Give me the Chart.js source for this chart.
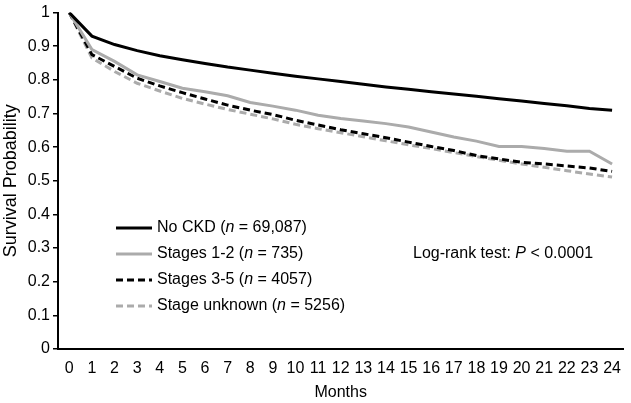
<!doctype html>
<html>
	<head>
		<meta charset="utf-8" />
		<title>Survival</title>
		<style>
			html	{ height: 100% }
			body	{ height: 100%; margin: 0; padding: 0; background: #fff }
			canvas	{ display:block; }
		</style>
		<script src="https://cdn.jsdelivr.net/npm/chart.js@4/dist/chart.umd.min.js"></script>
	</head>
	<body>
		<canvas id="canvas" width="631" height="403"></canvas>
		<script>
			var months = ['0','1','2','3','4','5','6','7','8','9','10','11','12','13','14','15','16','17','18','19','20','21','22','23','24'];

			var noCkd = [1, 0.93, 0.905, 0.887, 0.872, 0.86, 0.849, 0.838, 0.829, 0.82, 0.811, 0.803, 0.795,
				0.787, 0.779, 0.772, 0.765, 0.758, 0.751, 0.744, 0.737, 0.73, 0.723, 0.715, 0.71];
			var stages12 = [1, 0.89, 0.855, 0.815, 0.795, 0.775, 0.765, 0.753, 0.733, 0.722, 0.71, 0.695, 0.685,
				0.678, 0.67, 0.66, 0.645, 0.63, 0.618, 0.602, 0.602, 0.596, 0.588, 0.588, 0.55];
			var stages35 = [1, 0.875, 0.84, 0.805, 0.782, 0.762, 0.743, 0.725, 0.71, 0.697, 0.68, 0.666, 0.652,
				0.64, 0.628, 0.615, 0.602, 0.59, 0.575, 0.565, 0.555, 0.55, 0.544, 0.538, 0.528];
			var stageUnknown = [1, 0.865, 0.825, 0.79, 0.767, 0.745, 0.728, 0.712, 0.698, 0.684, 0.668, 0.655, 0.643,
				0.631, 0.619, 0.607, 0.596, 0.584, 0.572, 0.561, 0.55, 0.54, 0.53, 0.52, 0.511];

			var yTicks = [0, 0.1, 0.2, 0.3, 0.4, 0.5, 0.6, 0.7, 0.8, 0.9, 1];

			var FONT = '"Liberation Sans", Arial, sans-serif';
			var GREY = '#ababab';

			var legendRows = [
				{ color: '#000', dash: [], parts: [['No CKD (', 0], ['n', 1], [' = 69,087)', 0]] },
				{ color: GREY, dash: [], parts: [['Stages 1-2 (', 0], ['n', 1], [' = 735)', 0]] },
				{ color: '#000', dash: [7, 4], parts: [['Stages 3-5 (', 0], ['n', 1], [' = 4057)', 0]] },
				{ color: GREY, dash: [7, 4], parts: [['Stage unknown (', 0], ['n', 1], [' = 5256)', 0]] }
			];

			function drawParts(ctx, parts, x, y) {
				for (var i = 0; i < parts.length; i++) {
					ctx.font = (parts[i][1] ? 'italic ' : '') + '16px ' + FONT;
					ctx.fillText(parts[i][0], x, y);
					x += ctx.measureText(parts[i][0]).width;
				}
			}

			var notes = {
				id: 'notes',
				afterDraw: function(chart) {
					var ctx = chart.ctx;
					ctx.save();
					ctx.textBaseline = 'middle';
					ctx.fillStyle = '#000';
					for (var i = 0; i < legendRows.length; i++) {
						var r = legendRows[i];
						var y = 228 + i * 26;
						ctx.strokeStyle = r.color;
						ctx.lineWidth = 3;
						ctx.setLineDash(r.dash);
						ctx.beginPath();
						ctx.moveTo(116, y);
						ctx.lineTo(152, y);
						ctx.stroke();
						ctx.setLineDash([]);
						drawParts(ctx, r.parts, 157, y);
					}
					drawParts(ctx, [['Log-rank test: ', 0], ['P', 1], [' < 0.0001', 0]], 413, 254);
					ctx.restore();
				}
			};

			function line(label, data, color, dash) {
				return {
					label: label,
					data: data,
					borderColor: color,
					borderWidth: 3,
					borderDash: dash,
					pointRadius: 0,
					tension: 0,
					fill: false
				};
			}

			new Chart(document.getElementById('canvas').getContext('2d'), {
				type: 'line',
				data: {
					labels: months,
					datasets: [
						line('No CKD', noCkd, '#000', []),
						line('Stages 1-2', stages12, GREY, []),
						line('Stages 3-5', stages35, '#000', [7, 4]),
						line('Stage unknown', stageUnknown, GREY, [7, 4])
					]
				},
				options: {
					responsive: false,
					animation: false,
					layout: { padding: { left: 0, right: 1, top: 12, bottom: 0 } },
					plugins: { legend: { display: false }, tooltip: { enabled: false } },
					scales: {
						x: {
							type: 'category',
							offset: true,
							grid: { drawOnChartArea: false, drawTicks: false, offset: true },
							border: { display: true, color: '#000', width: 2 },
							ticks: { color: '#000', font: { family: FONT, size: 16 }, padding: 10, maxRotation: 0, autoSkip: false },
							title: { display: true, text: 'Months', color: '#000', font: { family: FONT, size: 16 }, padding: { top: 2, bottom: 1 } },
							afterFit: function(s) { s.height = 54; }
						},
						y: {
							min: 0,
							max: 1,
							afterBuildTicks: function(s) { s.ticks = yTicks.map(function(v) { return { value: v }; }); },
							grid: { drawOnChartArea: false, drawTicks: true, tickLength: 5, color: '#000', lineWidth: 1.5 },
							border: { display: true, color: '#000', width: 2 },
							ticks: {
								color: '#000', font: { family: FONT, size: 16 }, padding: 3,
								callback: function(v) { return String(+v.toFixed(1)); }
							},
							title: { display: true, text: 'Survival Probability', color: '#000', font: { family: FONT, size: 18 }, padding: { top: 0, bottom: 2 } },
							afterFit: function(s) { s.width = 58; }
						}
					}
				},
				plugins: [notes]
			});
		</script>
	</body>
</html>
